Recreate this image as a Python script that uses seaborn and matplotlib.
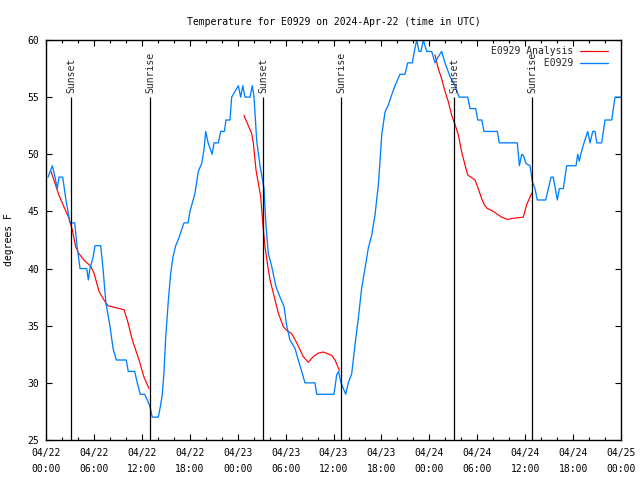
import numpy as np
import pandas as pd
import matplotlib
matplotlib.use("Agg")
import matplotlib.pyplot as plt
import seaborn as sns

# ---------------- data (hours after 2024-04-22 00:00 UTC) ----------------
obs_hours = [0.25, 0.79, 1.13, 1.41, 1.63, 2.09, 2.5, 3.0, 3.59, 3.88, 4.26, 5.1, 5.3, 5.5,
             5.9, 6.14, 6.85, 7.14, 7.5, 8.0, 8.4, 8.8, 10.05, 10.3, 11.1, 11.43, 11.8, 12.36,
             13.0, 13.3, 14.06, 14.34, 14.56, 14.78, 14.99, 15.3, 15.6, 15.9, 16.24, 16.65,
             17.28, 17.78, 18.03, 18.66, 19.07, 19.5, 19.78, 20.0, 20.3, 20.8, 21.04, 21.58,
             21.88, 22.33, 22.54, 23.04, 23.25, 23.67, 24.08, 24.38, 24.63, 24.92, 25.54, 25.83,
             26.05, 26.38, 26.8, 27.3, 27.55, 27.84, 28.26, 28.8, 29.3, 29.8, 30.14, 30.55,
             31.18, 31.59, 32.02, 32.43, 33.68, 33.9, 36.06, 36.4, 36.63, 36.94, 37.53, 37.85,
             38.28, 38.69, 39.1, 39.53, 39.94, 40.36, 40.78, 41.2, 41.61, 41.82, 42.04, 42.45,
             42.86, 43.29, 43.7, 44.33, 44.95, 45.29, 45.87, 46.12, 46.42, 46.71, 46.96, 47.25,
             47.67, 48.3, 48.71, 49.09, 49.55, 49.96, 50.59, 51.22, 51.72, 52.81, 53.09, 53.81,
             54.06, 54.56, 54.85, 56.51, 56.76, 59.02, 59.27, 59.57, 59.77, 60.1, 60.61, 60.9,
             61.23, 61.52, 62.57, 62.9, 63.24, 63.52, 63.86, 64.03, 64.28, 64.78, 65.2, 66.37,
             66.58, 66.78, 66.96, 67.37, 67.83, 68.12, 68.46, 68.75, 68.96, 69.58, 70.0, 70.84,
             71.25, 72.0]
obs_temps = [48, 49, 48, 47, 48, 48, 46, 44, 44, 42, 40, 40, 39, 40,
             41, 42, 42, 40, 37, 35, 33, 32, 32, 31, 31, 30, 29, 29,
             28, 27, 27, 28, 29, 31, 34, 37, 39.5, 41, 42, 42.7,
             44, 44, 45, 46.6, 48.5, 49.2, 50.4, 52, 51, 50, 51, 51,
             52, 52, 53, 53, 55, 55.5, 56, 55, 56, 55, 55, 56,
             55, 51.2, 49, 47, 43.7, 41.3, 40.2, 38.4, 37.5, 36.7, 35, 33.75,
             33, 32, 31, 30, 30, 29, 29, 30.7, 31, 30, 29, 30,
             30.8, 33.3, 35.6, 38.3, 40, 41.8, 42.9, 44.7, 47.3, 49.35, 51.7, 53.7,
             54.3, 55.2, 56, 57, 57, 58, 58, 59, 60, 59, 59, 60,
             59, 59, 58, 58.5, 59, 58, 56.8, 56, 55, 55, 54, 54,
             53, 53, 52, 52, 51, 51, 49, 50, 49.9, 49.2, 49, 47.6,
             47, 46, 46, 47, 48, 48, 46.7, 46, 47, 47, 49, 49,
             50, 49.4, 50, 51, 52, 51, 52, 52, 51, 51, 53, 53,
             55, 55]

ana_segment = [1] * 19 + [2] * 24 + [3] * 23
ana_hours = [0.63, 1.63, 2.25, 2.88, 3.29, 3.72, 4.13, 4.76, 5.6, 6.01, 6.64, 7.26, 7.76,
             9.77, 10.18, 10.81, 11.65, 12.27, 12.9,
             24.79, 25.76, 25.96, 26.3, 26.58, 26.88, 27.14, 27.42, 27.84, 28.05, 28.68, 29.09,
             29.72, 30.14, 30.77, 31.39, 32.22, 32.85, 33.47, 34.1, 34.72, 35.78, 36.19, 36.73,
             48.71, 49.12, 49.55, 49.96, 50.38, 50.8, 51.22, 51.63, 52.05, 52.47, 52.8, 53.72,
             54.13, 54.56, 54.88, 55.18, 56.01, 57.06, 57.76, 58.51, 59.77, 60.19, 60.82]
ana_temps = [48.5, 46.4, 45.4, 44.4, 43.4, 41.9, 41.3, 40.75, 40.2, 39.6, 38.0, 37.25, 36.75,
             36.4, 35.5, 33.75, 32.0, 30.5, 29.5,
             53.4, 51.8, 51.0, 48.6, 47.5, 46.3, 44.0, 41.9, 39.9, 39.0, 37.25, 36.1,
             34.9, 34.6, 34.3, 33.5, 32.3, 31.8, 32.3, 32.6, 32.7, 32.4, 32.0, 31.1,
             58.7, 57.5, 56.6, 55.5, 54.6, 53.4, 52.6, 51.7, 50.2, 49.06, 48.2, 47.75,
             47.0, 46.1, 45.6, 45.3, 45.0, 44.5, 44.3, 44.4, 44.5, 45.6, 46.6]

sun_hours = [3.17, 13.06, 27.21, 36.98, 51.13, 60.89]
sun_labels = ["Sunset", "Sunrise", "Sunset", "Sunrise", "Sunset", "Sunrise"]

tick_hours = [0, 6, 12, 18, 24, 30, 36, 42, 48, 54, 60, 66, 72]
tick_labels = ["04/22\n00:00", "04/22\n06:00", "04/22\n12:00", "04/22\n18:00",
               "04/23\n00:00", "04/23\n06:00", "04/23\n12:00", "04/23\n18:00",
               "04/24\n00:00", "04/24\n06:00", "04/24\n12:00", "04/24\n18:00",
               "04/25\n00:00"]
y_ticks = [25, 30, 35, 40, 45, 50, 55, 60]

series_names = ["E0929 Analysis", "E0929"]
title = "Temperature for E0929 on 2024-Apr-22 (time in UTC)"

# ---------------- plotting ----------------
sns.set_theme(style="white")
plt.rcParams['font.family'] = ['DejaVu Sans Mono', 'DejaVu Sans']
FS = 7

base = pd.Timestamp("2024-04-22 00:00")
to_time = lambda h: base + pd.to_timedelta(np.asarray(h, dtype=float), unit="h")

obs = pd.DataFrame({"time": to_time(obs_hours), "temp": obs_temps})
ana = pd.DataFrame({"time": to_time(ana_hours), "temp": ana_temps, "seg": ana_segment})

fig = plt.figure(figsize=(6.4, 4.8), dpi=100)
ax = fig.add_axes([46 / 640, 40 / 480, 575 / 640, 400 / 480])

sns.lineplot(data=ana, x="time", y="temp", units="seg", estimator=None,
             color="#ff0000", lw=0.85, ax=ax, sort=False, legend=False)
red_handle = ax.get_lines()[-1]
sns.lineplot(data=obs, x="time", y="temp", estimator=None,
             color="#0080ff", lw=0.95, ax=ax, sort=False, legend=False)
blue_handle = ax.get_lines()[-1]

sun_t = to_time(sun_hours)
ax.vlines(sun_t, 25, 55, color="black", lw=0.9)
for t, lab in zip(sun_t, sun_labels):
    ax.text(t, 55.4, lab, rotation=90, ha="center", va="bottom", fontsize=FS)

ax.set_xlim(to_time([0])[0], to_time([72])[0])
ax.set_ylim(25, 60)

ax.set_xticks(to_time(tick_hours))
xl = ax.set_xticklabels(tick_labels, fontsize=FS)
for t in xl:
    t.set_linespacing(1.75)
ax.set_xticks(to_time(np.arange(0, 73, 2)), minor=True)
ax.set_yticks(y_ticks)
ax.set_yticklabels([str(v) for v in y_ticks], fontsize=FS)

ax.tick_params(axis="both", which="major", direction="in", length=4.5, width=0.8,
               top=True, right=True, bottom=True, left=True, color="black", labelcolor="black")
ax.tick_params(axis="x", which="major", pad=6)
ax.tick_params(axis="y", which="major", pad=5)
ax.tick_params(axis="x", which="minor", direction="in", length=2.5, width=0.8,
               top=True, bottom=True, color="black")

for s in ax.spines.values():
    s.set_color("black")
    s.set_linewidth(1.0)

ax.set_xlabel("")
ax.set_ylabel("degrees F", fontsize=FS, color="black")
ax.yaxis.set_label_coords(-0.056, 0.5)
ax.set_title(title, fontsize=FS, color="black", pad=11)

# right-aligned legend labels (monospace font -> pad with spaces)
width = max(len(n) for n in series_names)
padded = [n.rjust(width) for n in series_names]
ax.legend([red_handle, blue_handle], padded, loc="upper right", frameon=False,
          bbox_to_anchor=(0.99, 1.002),
          markerfirst=False, prop={"size": FS, "family": "DejaVu Sans Mono"},
          handlelength=2.9, handletextpad=0.7, labelspacing=0.25,
          borderaxespad=0.3)

fig.savefig("out.png", dpi=100)
